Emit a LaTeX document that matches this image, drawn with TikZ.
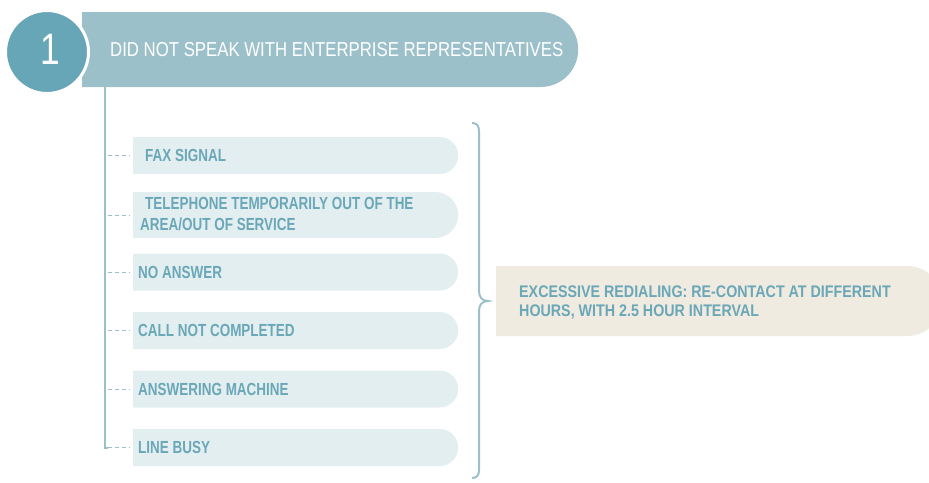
\documentclass[tikz,border=0pt]{standalone}
\usepackage{fontspec}
\usetikzlibrary{shapes.misc}
\newfontfamily\headfont{Liberation Sans}[FakeStretch=0.83]
\newfontfamily\numfont{Liberation Sans}[FakeStretch=0.8]
\newfontfamily\itemfont{Liberation Sans}[FakeStretch=0.77]
\newfontfamily\notefont{Liberation Sans}[FakeStretch=0.85]
\definecolor{barblue}{HTML}{9CC0CA}
\definecolor{circblue}{HTML}{67A6B6}
\definecolor{itembg}{HTML}{E3EEF1}
\definecolor{txtblue}{HTML}{6AA7B7}
\definecolor{beige}{HTML}{EFEBE1}
\tikzset{
  halfround/.style={rounded rectangle, rounded rectangle left arc=none, inner sep=0pt, anchor=west},
  itembox/.style={halfround, fill=itembg, minimum width=325pt, minimum height=37pt},
  itemtext/.style={anchor=west, inner sep=0pt, text=txtblue, font=\itemfont\bfseries\fontsize{17.5}{21}\selectfont, align=left},
  trunk/.style={draw=barblue, line width=2pt},
  twig/.style={draw=barblue, line width=1pt, dash pattern=on 4pt off 3pt},
}
\begin{document}
\begin{tikzpicture}[x=1pt,y=-1pt]
\useasboundingbox (0,0) rectangle (929,482);
\clip (0,0) rectangle (929,482);
% header
\node[halfround, fill=barblue, minimum width=496pt, minimum height=75pt] (head) at (82,49.5) {};
\node[circle, fill=circblue, draw=white, line width=3pt, minimum size=83pt, inner sep=0pt] (num) at (47,52) {};
\node[text=white, font=\numfont\fontsize{44}{46}\selectfont, inner sep=0pt] (numtxt) at (50,49) {1};
\node[anchor=west, inner sep=0pt, text=white, font=\headfont\fontsize{20.2}{22}\selectfont] (headtxt) at (110,50) {DID NOT SPEAK WITH ENTERPRISE REPRESENTATIVES};
% items
\node[itembox] (b1) at (133,155.5) {};
\node[itembox, minimum height=46pt] (b2) at (133,215) {};
\node[itembox] (b3) at (133,272) {};
\node[itembox] (b4) at (133,330.5) {};
\node[itembox] (b5) at (133,389) {};
\node[itembox] (b6) at (133,447.5) {};
\node[itemtext] (t1) at ([xshift=12pt]b1.west) {FAX SIGNAL};
\node[itemtext, anchor=north west] (t2a) at (145,197) {TELEPHONE TEMPORARILY OUT OF THE};
\node[itemtext, anchor=north west] (t2b) at (140,218) {AREA/OUT OF SERVICE};
\node[itemtext] (t3) at ([xshift=5pt]b3.west) {NO ANSWER};
\node[itemtext] (t4) at ([xshift=5pt]b4.west) {CALL NOT COMPLETED};
\node[itemtext] (t5) at ([xshift=5pt]b5.west) {ANSWERING MACHINE};
\node[itemtext] (t6) at ([xshift=5pt]b6.west) {LINE BUSY};
% trunk and twigs
\coordinate (top) at (105,87);
\coordinate (c6) at (105,447.5);
\draw[trunk] (top) -- (c6) -- ++(3pt,0);
\foreach \i in {1,...,6} {
  \draw[twig] (b\i.west -| top) ++(3pt,0) -- ([xshift=-3pt]b\i.west);
}
% note box
\node[halfround, fill=beige, minimum width=446pt, minimum height=70pt] (note) at (496,301) {};
\node[anchor=north west, inner sep=0pt, text=txtblue, font=\notefont\bfseries\fontsize{16.8}{19}\selectfont, align=left] (notetxt) at (519,285.5) {EXCESSIVE REDIALING: RE-CONTACT AT DIFFERENT\\HOURS, WITH 2.5 HOUR INTERVAL};
% brace
\coordinate (bt) at (472,123);
\coordinate (tip) at (488,301);
\coordinate (bb) at (472,478);
\draw[draw=barblue, line width=2pt] (bt) .. controls (477,123) and (479,126) .. (479,131)
  -- (479,291) .. controls (479,297) and (482,301) .. (tip)
  .. controls (482,301) and (479,305) .. (479,311)
  -- (479,470) .. controls (479,475) and (477,478) .. (bb);
\end{tikzpicture}
\end{document}
